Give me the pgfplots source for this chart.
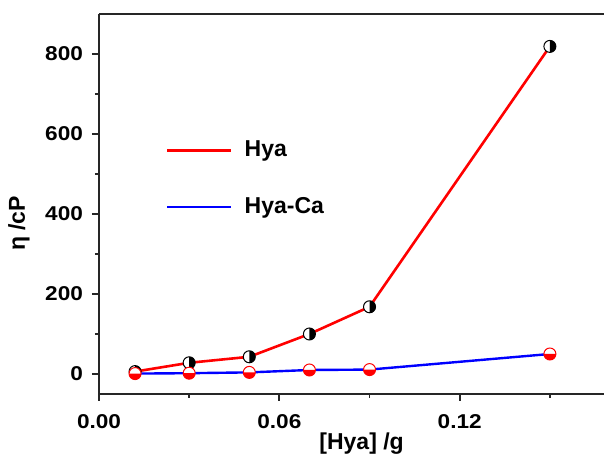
\documentclass[border=0pt]{standalone}
\usepackage{fontspec}
\setmainfont{Liberation Sans}
\newfontfamily\tickfont{Liberation Sans}[FakeStretch=1.13]
\usepackage{pgfplots}
\pgfplotsset{compat=1.18}
\usetikzlibrary{plotmarks}

% circle: left half white, right half black
\pgfdeclareplotmark{hyamark}{%
  \pgfsetlinewidth{0.5pt}%
  \pgfpathcircle{\pgfpointorigin}{\pgfplotmarksize}%
  \pgfsetfillcolor{white}\pgfusepath{fill}%
  \pgfpathmoveto{\pgfqpoint{0pt}{\pgfplotmarksize}}%
  \pgfpatharc{90}{-90}{\pgfplotmarksize}%
  \pgfpathclose
  \pgfsetfillcolor{black}\pgfusepath{fill}%
  \pgfsetstrokecolor{black}%
  \pgfpathcircle{\pgfpointorigin}{\pgfplotmarksize}%
  \pgfusepath{stroke}%
}
% circle: top half white, bottom half red
\pgfdeclareplotmark{camark}{%
  \pgfsetlinewidth{0.5pt}%
  \pgfpathcircle{\pgfpointorigin}{\pgfplotmarksize}%
  \pgfsetfillcolor{white}\pgfusepath{fill}%
  \pgfpathmoveto{\pgfqpoint{-\pgfplotmarksize}{0pt}}%
  \pgfpatharc{180}{360}{\pgfplotmarksize}%
  \pgfpathclose
  \pgfsetfillcolor{red}\pgfusepath{fill}%
  \pgfsetstrokecolor{red}%
  \pgfpathcircle{\pgfpointorigin}{\pgfplotmarksize}%
  \pgfusepath{stroke}%
}

\begin{document}
\begin{tikzpicture}
\begin{axis}[
    scale only axis,
    width=252.5pt, height=190pt,
    xmin=0, xmax=0.168,
    ymin=-50, ymax=900,
    axis x line*=box, axis y line*=left,
    axis line style={line width=0.9pt, black!85},
    xtick={0,0.06,0.12}, minor xtick={0.03,0.09,0.15},
    ytick={0,200,400,600,800}, minor ytick={100,300,500,700},
    xtick pos=bottom, ytick pos=left,
    tick align=outside,
    major tick length=3.5pt, minor tick length=2pt,
    every tick/.style={line width=0.9pt, black!85},
    /pgf/number format/assume math mode=true,
    ticklabel style={font=\tickfont\fontsize{10}{11}\selectfont\bfseries},
    xticklabel style={yshift=-3pt, /pgf/number format/.cd, fixed, fixed zerofill, precision=2},
    yticklabel style={xshift=-1pt, /pgf/number format/.cd, fixed, precision=0},
    scaled x ticks=false,
    xlabel={[Hya] /g},
    ylabel={η /cP},
    label style={font=\fontsize{11.5}{13}\selectfont\bfseries},
    xlabel style={at={([yshift=-25pt]rel axis cs:0.52,0)}, anchor=center},
    ylabel style={at={([xshift=-40pt]rel axis cs:0,0.449)}, anchor=center},
    legend style={at={(axis cs:0.0222,488)}, anchor=west, draw=none, fill=none,
        font=\fontsize{11.5}{13}\selectfont\bfseries, row sep=19pt, inner sep=0pt,
        nodes={inner sep=0pt}, column sep=6pt},
    legend cell align=left,
    legend image code/.code={\draw[#1] (0pt,0pt) -- (32pt,0pt);},
]
\addplot[red, line width=1.3pt, mark=hyamark, mark size=3pt] coordinates {
    (0.012,6) (0.03,28) (0.05,43) (0.07,100) (0.09,168) (0.15,819)
};
\addlegendentry{Hya}
\addplot[blue, line width=1.2pt, mark=camark, mark size=3pt] coordinates {
    (0.012,1) (0.03,2) (0.05,4) (0.07,10) (0.09,11) (0.15,50)
};
\addlegendentry{Hya-Ca}
\coordinate (ll) at (rel axis cs:0,0);
\coordinate (ur) at (rel axis cs:1,1);
\end{axis}
\pgfresetboundingbox
\path[use as bounding box] ([xshift=-49.5pt,yshift=-32pt]ll) rectangle ([yshift=7pt]ur);
\end{tikzpicture}
\end{document}
